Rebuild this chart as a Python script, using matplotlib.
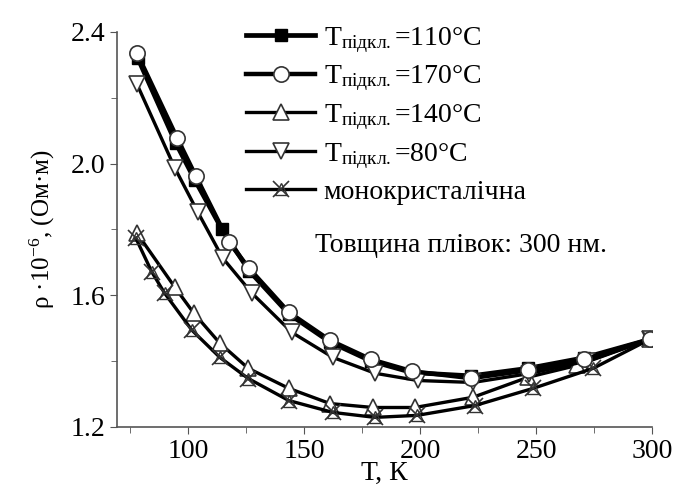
import numpy as np
import matplotlib
matplotlib.use("Agg")
import matplotlib.pyplot as plt

plt.rcParams["font.family"] = ["Liberation Serif", "DejaVu Serif"]
plt.rcParams["mathtext.fontset"] = "custom"
plt.rcParams["mathtext.rm"] = "Liberation Serif"
plt.rcParams["mathtext.it"] = "Liberation Serif:italic"

# ── DATA ────────────────────────────────────────────────────────────
T_110 = [78.4, 94.8, 103, 114.7, 126.3, 143.5, 161.2, 178.9, 196.6, 222, 246.6, 270.7, 299]
R_110 = [2.32, 2.062, 1.95, 1.80, 1.675, 1.543, 1.458, 1.40, 1.365, 1.355, 1.378, 1.41, 1.466]

T_170 = [78, 95.3, 103.4, 117.7, 126.3, 143.5, 161.2, 178.9, 196.6, 222, 246.6, 270.7, 299]
R_170 = [2.336, 2.078, 1.962, 1.761, 1.682, 1.548, 1.463, 1.405, 1.369, 1.348, 1.372, 1.405, 1.466]

T_140 = [78, 94.4, 102.6, 113.8, 126, 143.5, 161.2, 179.7, 197.8, 222.8, 246.6, 267.7, 299]
R_140 = [1.789, 1.624, 1.545, 1.454, 1.378, 1.317, 1.271, 1.259, 1.259, 1.290, 1.351, 1.387, 1.466]

T_80 = [78, 94.4, 104.3, 115, 127.6, 144.8, 162.5, 180.6, 199, 222.8, 247, 272, 299]
R_80 = [2.242, 1.986, 1.852, 1.713, 1.606, 1.487, 1.411, 1.363, 1.341, 1.335, 1.362, 1.40, 1.466]

T_mono = [77.6, 84.5, 90, 101.7, 113.8, 126, 143.5, 162.5, 180.6, 198.7, 223.7, 248.7, 274.6, 299]
R_mono = [1.773, 1.67, 1.606, 1.494, 1.411, 1.347, 1.280, 1.244, 1.229, 1.235, 1.265, 1.317, 1.378, 1.466]

LABELS = [r"T$_{\mathrm{підкл.}}$=110°C", r"T$_{\mathrm{підкл.}}$=170°C",
          r"T$_{\mathrm{підкл.}}$=140°C", r"T$_{\mathrm{підкл.}}$=80°C",
          "монокристалічна"]
# ────────────────────────────────────────────────────────────────────

fig = plt.figure(figsize=(6.73, 4.97), dpi=100)
ax = fig.add_axes([0.174, 0.141, 0.795, 0.795])

edge = "#333333"
l110, = ax.plot(T_110, R_110, color="black", lw=3.4, marker="s", ms=9,
                mfc="black", mec="black", zorder=3)
l170, = ax.plot(T_170, R_170, color="black", lw=3.2, marker="o", ms=11,
                mfc="white", mec=edge, mew=1.2, zorder=4)
l140, = ax.plot(T_140, R_140, color="black", lw=2.4, marker="^", ms=11,
                mfc="white", mec=edge, mew=1.2, zorder=3)
l80, = ax.plot(T_80, R_80, color="black", lw=2.4, marker="v", ms=11,
               mfc="white", mec=edge, mew=1.2, zorder=3)
lmono, = ax.plot(T_mono, R_mono, color="black", lw=2.4, marker="x", ms=12,
                 mec=edge, mew=1.2, zorder=3)
# triangle overlay gives the star-like monocrystal marker
ltri, = ax.plot(T_mono, R_mono, ls="none", marker="^", ms=9, mfc="none",
                mec=edge, mew=1.0, zorder=3)

ax.set_xlim(69.5, 300)
ax.set_ylim(1.2, 2.4)
ax.set_xticks([100, 150, 200, 250, 300])
ax.set_xticks([75, 125, 175, 225, 275], minor=True)
ax.set_yticks([1.2, 1.6, 2.0, 2.4])
ax.set_yticks([1.4, 1.8, 2.2], minor=True)
ax.yaxis.set_major_formatter(matplotlib.ticker.FormatStrFormatter("%.1f"))
ax.tick_params(which="both", direction="out", labelsize=20, color="#555555")
ax.tick_params(which="major", length=5)
ax.tick_params(which="minor", length=4)
for s in ("top", "right"):
    ax.spines[s].set_visible(False)
for s in ("left", "bottom"):
    ax.spines[s].set_color("#555555")
    ax.spines[s].set_linewidth(1.2)

ax.set_xlabel("Т, К", fontsize=20, labelpad=-2)
ax.set_ylabel(r"ρ ·10$^{-6}$, (Ом·м)", fontsize=18, labelpad=10)

ax.text(0.37, 0.46, "Товщина плівок: 300 нм.", transform=ax.transAxes,
        fontsize=20, va="center", ha="left")

ax.legend([l110, l170, l140, l80, (lmono, ltri)], LABELS, loc="upper left",
          bbox_to_anchor=(0.22, 1.045), frameon=False, fontsize=20,
          handlelength=2.5, handletextpad=0.3, labelspacing=0.32,
          borderaxespad=0)

fig.savefig("out.png", dpi=100)
